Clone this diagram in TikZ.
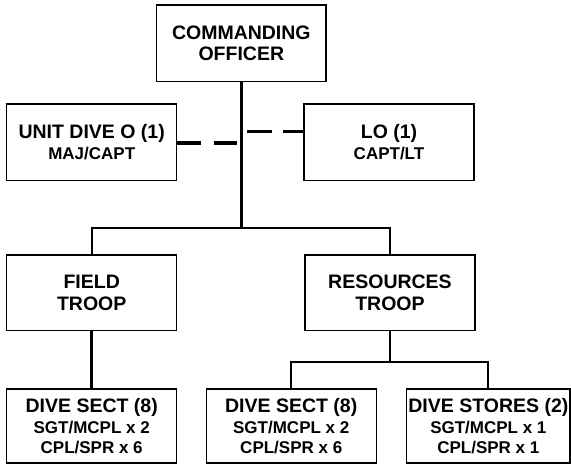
\documentclass[tikz,border=0pt]{standalone}
\usepackage{fontspec}
\setmainfont{Liberation Sans}
\usetikzlibrary{positioning, calc}

\newcommand{\subline}[1]{{\fontsize{17}{20}\selectfont #1}}

\begin{document}
\begin{tikzpicture}[x=1pt, y=-1pt,
        unitbox/.style={draw, line width=1.4pt, align=center, inner sep=0pt,
            minimum width=170pt, minimum height=76.7pt,
            font=\fontsize{19.5}{21.7}\selectfont\bfseries},
        link/.style={line width=1.8pt},
        trunk/.style={line width=3pt},
        dashlink/.style={line width=3.5pt}]
        \useasboundingbox (0,0) rectangle (571,464);

        % command
        \node[unitbox, minimum width=169.3pt] (co) at (241.35,43.35) {COMMANDING\\OFFICER};
        \node[unitbox] (udo) at (91.7,142.35) {UNIT DIVE O (1)\\[-1pt]\subline{MAJ/CAPT}};
        \node[unitbox] (lo) at (389,142.35) {LO (1)\\[-1pt]\subline{CAPT/LT}};

        % troops
        \node[unitbox, minimum height=75.7pt] (field) at (91.7,292.85) {FIELD\\TROOP};
        \node[unitbox, minimum height=75.7pt] (res) at (390,292.85) {RESOURCES\\TROOP};

        % sections
        \node[unitbox, minimum height=74pt] (sect1) at (91.7,426)
            {DIVE SECT (8)\\[-1.5pt]\subline{SGT/MCPL x 2}\\[-1.7pt]\subline{CPL/SPR x 6}};
        \node[unitbox, minimum height=74pt] (sect2) at (291.25,426)
            {DIVE SECT (8)\\[-1.5pt]\subline{SGT/MCPL x 2}\\[-1.7pt]\subline{CPL/SPR x 6}};
        \node[unitbox, minimum height=74pt, minimum width=163.3pt] (stores) at (488.35,426)
            {DIVE STORES (2)\\[-1.5pt]\subline{SGT/MCPL x 1}\\[-1.7pt]\subline{CPL/SPR x 1}};

        \coordinate (j1) at (co.south |- 0,228.3);
        \coordinate (j2) at (res.south |- 0,361.7);
        \coordinate (dl) at (co.south |- 0,143);
        \coordinate (dr) at (co.south |- 0,131.7);

        \draw[trunk] (co.south) -- (j1);
        \draw[link] (field.north) |- (j1) -| (res.north);

        \draw[dashlink, dash pattern=on 23.5pt off 13pt] (udo.east |- dl) -- (dl);
        \draw[dashlink, dash pattern=on 0pt off 6pt on 25pt off 11pt on 30pt] (dr) -- (dr -| lo.west);

        \draw[line width=3.5pt] (field.south) -- (sect1.north);
        \draw[line width=2.5pt] (res.south) -- (j2);
        \draw[link] (sect2.north) |- (j2) -| (stores.north);

    \end{tikzpicture}
\end{document}
